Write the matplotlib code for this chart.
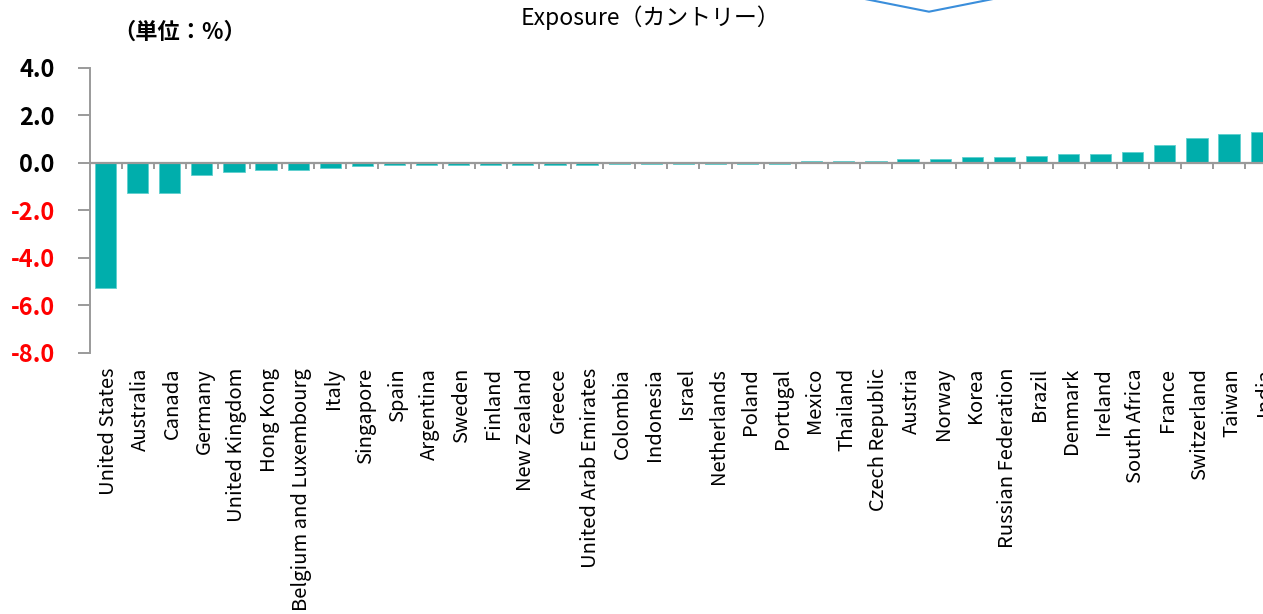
import numpy as np
import matplotlib
matplotlib.use("Agg")
import matplotlib.pyplot as plt
import matplotlib.transforms as mtransforms
from matplotlib.lines import Line2D

plt.rcParams['font.family'] = ['Noto Sans CJK JP', 'DejaVu Sans']

countries = ['United States', 'Australia', 'Canada', 'Germany', 'United Kingdom',
             'Hong Kong', 'Belgium and Luxembourg', 'Italy', 'Singapore', 'Spain',
             'Argentina', 'Sweden', 'Finland', 'New Zealand', 'Greece',
             'United Arab Emirates', 'Colombia', 'Indonesia', 'Israel', 'Netherlands',
             'Poland', 'Portugal', 'Mexico', 'Thailand', 'Czech Republic',
             'Austria', 'Norway', 'Korea', 'Russian Federation', 'Brazil',
             'Denmark', 'Ireland', 'South Africa', 'France', 'Switzerland',
             'Taiwan', 'India']
exposure = [-5.29, -1.29, -1.29, -0.52, -0.39,
            -0.31, -0.31, -0.24, -0.16, -0.10,
            -0.09, -0.09, -0.08, -0.08, -0.08,
            -0.08, -0.07, -0.07, -0.07, -0.07,
            -0.06, -0.06, 0.06, 0.06, 0.08,
            0.14, 0.14, 0.23, 0.23, 0.30,
            0.37, 0.37, 0.45, 0.75, 1.04,
            1.20, 1.28]
yticks = [4.0, 2.0, 0.0, -2.0, -4.0, -6.0, -8.0]

W, H = 1263, 614
fig = plt.figure(figsize=(W / 100, H / 100), dpi=100)
# axes runs a bit past the right edge, like the cropped original
ax = fig.add_axes([89.5 / W, 1 - 352.7 / H, 37 * 32.1 / W, 285 / H])

x = np.arange(len(countries))
ax.bar(x, exposure, width=0.66, color='#00AEAC', edgecolor='#5FD0CE', linewidth=0.6, zorder=2)

ax.set_xlim(-0.5, len(countries) - 0.5)
ax.set_ylim(-8, 4)

grey = '#9A9A9A'
ax.axhline(0, color=grey, linewidth=1.6, zorder=3)
# category separators hanging under the zero line
ax.vlines(x[:-1] + 0.5, -0.28, 0, color=grey, linewidth=1.4, zorder=3)

for s in ['top', 'right', 'bottom']:
    ax.spines[s].set_visible(False)
ax.spines['left'].set_color(grey)
ax.spines['left'].set_linewidth(1.4)

ax.set_yticks(yticks)
ax.set_yticklabels(['%.1f' % v for v in yticks], fontsize=17, fontweight='semibold')
ax.tick_params(axis='y', length=9, width=1.4, color=grey, pad=16)
for lab, v in zip(ax.get_yticklabels(), yticks):
    lab.set_color('#FF0000' if v < 0 else 'black')

ax.set_xticks(x)
ax.set_xticklabels(countries, rotation=90, fontsize=14.5)
ax.tick_params(axis='x', length=0, pad=11)
shift = mtransforms.ScaledTranslation(3 / 100, 0, fig.dpi_scale_trans)
for lab in ax.get_xticklabels():
    lab.set_transform(lab.get_transform() + shift)

fig.text(650 / W, 1 - 18 / H, 'Exposure（カントリー）', ha='center', va='center', fontsize=16.5)
fig.text(180 / W, 1 - 32 / H, '（単位：%）', ha='center', va='center', fontsize=16,
         fontweight='bold')

# piece of a callout outline cut off at the top of the page
fig.add_artist(Line2D([860 / W, 929 / W, 998 / W], [1 + 2 / H, 1 - 11.7 / H, 1 + 2 / H],
                      color='#3A8EDB', linewidth=1.5))

fig.savefig('out.png', dpi=100)
